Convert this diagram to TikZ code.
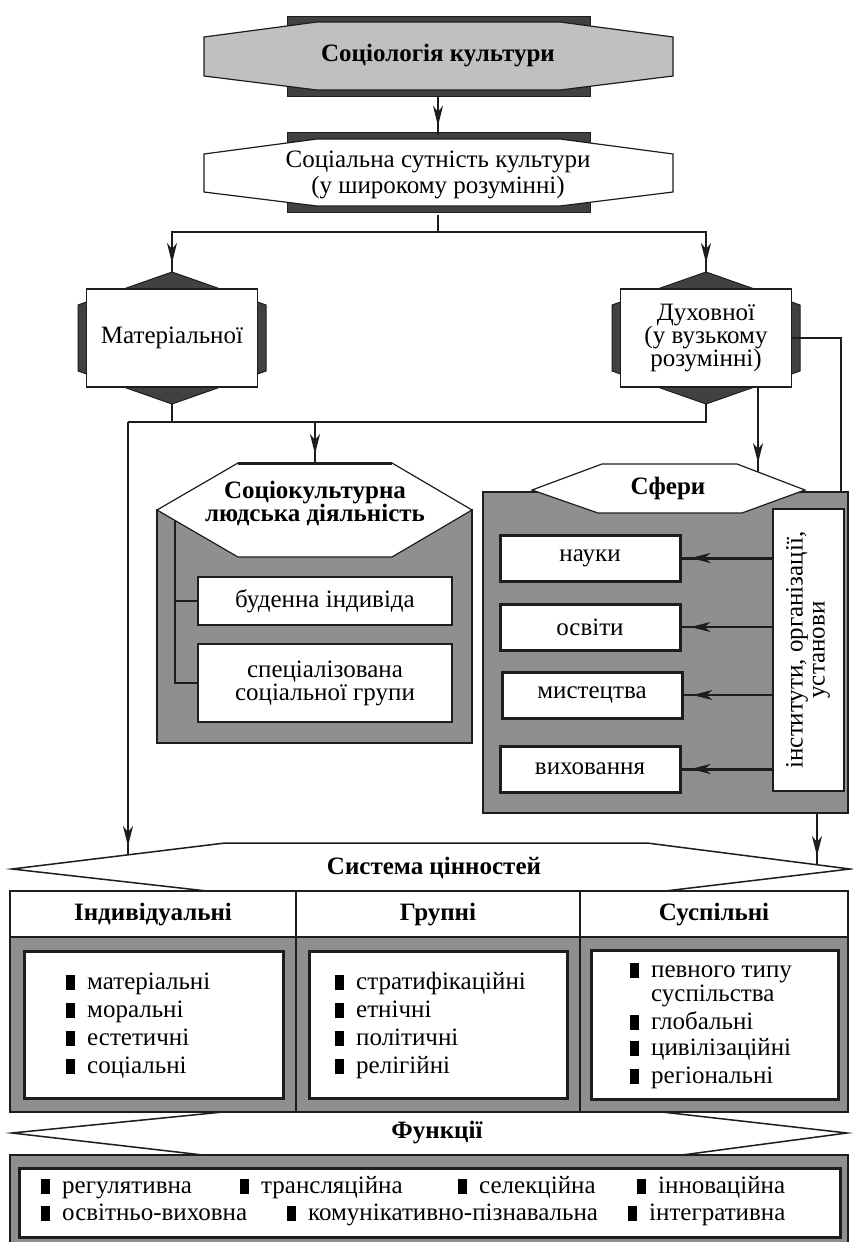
\documentclass[tikz,border=0pt]{standalone}
\usepackage{fontspec}
\setmainfont{Liberation Serif}
\usetikzlibrary{positioning,calc,arrows.meta,decorations.markings}

\definecolor{InkDark}{RGB}{30,28,28}
\definecolor{BarDark}{RGB}{66,64,64}
\definecolor{TitleGrey}{RGB}{192,192,192}
\definecolor{PanelGrey}{RGB}{143,143,143}

\tikzset{
  plain text/.style={
    font=\fontsize{25}{23}\selectfont,
    align=center, inner sep=0pt
  },
  bold text/.style={
    font=\fontsize{25}{23}\selectfont\bfseries,
    align=center, inner sep=0pt
  },
  list text/.style={
    font=\fontsize{25}{28}\selectfont,
    inner sep=0pt, anchor=base west
  },
  dark bar/.style={
    fill=BarDark, draw=InkDark, line width=1pt
  },
  banner hex/.style={
    fill=#1, draw=InkDark, line width=1.2pt
  },
  white box/.style={
    draw=InkDark, fill=white, line width=#1, inner sep=0pt
  },
  white box/.default=1.5pt,
  panel/.style={
    fill=PanelGrey, draw=InkDark, line width=2pt
  },
  link/.style={
    draw=InkDark, line width=2pt
  },
  thin link/.style={
    draw=InkDark, line width=1.2pt
  },
  arrow link/.style={
    postaction={decorate},
    decoration={markings,
      mark=at position -9pt with {\arrow{Stealth[length=20pt,width=10pt,inset=6pt]}}}
  },
}
\newcommand\bulletmark{\rule[-1pt]{9pt}{15pt}\hspace{12pt}}

\begin{document}
\begin{tikzpicture}[x=1pt, y=-1pt]
  \fill[white] (0,0) rectangle (852,1242);
  \useasboundingbox (0,0) rectangle (852,1242);

  % title
  \begin{scope}[shift={(438,56)}]
    \path[dark bar] (-151,-40) rectangle (152,40);
    \path[banner hex=TitleGrey] (-234,-19) -- (-121,-34) -- (122,-34) -- (235,-19)
      -- (235,20) -- (122,34) -- (-121,34) -- (-234,20) -- cycle;
    \node[bold text, minimum width=303pt, minimum height=80pt] (soc) at (0,0) {Соціологія культури};
  \end{scope}

  \begin{scope}[shift={(438,172)}]
    \path[dark bar] (-151,-40) rectangle (152,40);
    \path[banner hex=white] (-234,-18) -- (-121,-33) -- (122,-33) -- (235,-18)
      -- (235,20) -- (122,34) -- (-121,34) -- (-234,20) -- cycle;
    \node[plain text, font=\fontsize{25}{26}\selectfont, minimum width=303pt, minimum height=80pt]
      (ess) at (0,3) {Соціальна сутність культури\\(у широкому розумінні)};
  \end{scope}

  \draw[link, arrow link] (soc) -- (ess);

  % two kinds of culture
  \begin{scope}[shift={(172,338)}]
    \path[dark bar] (0,-66) -- (94,-33) -- (94,33) -- (0,66) -- (-94,33) -- (-94,-33) -- cycle;
    \node[white box, plain text, minimum width=171pt, minimum height=98pt] (mat) at (0,0) {Матеріальної};
    \coordinate (matTop) at (0,-66);
    \coordinate (matBot) at (0,66);
  \end{scope}
  \begin{scope}[shift={(706,338)}]
    \path[dark bar] (0,-66) -- (94,-33) -- (94,33) -- (0,66) -- (-94,33) -- (-94,-33) -- cycle;
    \node[white box, plain text, minimum width=171pt, minimum height=98pt] (duh) at (0,0)
      {Духовної\\(у вузькому\\розумінні)};
    \coordinate (duhTop) at (0,-66);
    \coordinate (duhBot) at (0,66);
  \end{scope}

  \coordinate (split) at (438,232);
  \draw[link] (ess.south) -- (split);
  \draw[link, arrow link] (split) -| (matTop);
  \draw[link, arrow link] (split) -| (duhTop);

  % socio-cultural activity
  \begin{scope}[shift={(315,510)}]
    \path[panel] (-158,0) rectangle (157,233);
    \path[fill=white, draw=InkDark, line width=1.2pt] (-158,0) -- (-77,-47) -- (77,-47) -- (157,0)
      -- (77,47) -- (-77,47) -- cycle;
    \draw[InkDark, line width=3pt] (-77,-47) -- (77,-47);
    \node[bold text] (sct) at (0,-7) {Соціокультурна\\людська діяльність};
    \coordinate (sctTop) at (0,-47);
    \coordinate (treeTop) at (-140,11);
  \end{scope}
  \node[white box=2.5pt, plain text, minimum width=254pt, minimum height=48pt] (bud) at (325,601) {буденна індивіда};
  \node[white box=2.5pt, plain text, minimum width=254pt, minimum height=78pt] (spec) at (325,683)
    {спеціалізована\\соціальної групи};
  \draw[thin link] (treeTop) |- (bud);
  \draw[thin link] (treeTop) |- (spec);

  % spheres
  \begin{scope}[shift={(668,490)}]
    \path[panel] (-185,2) rectangle (180,323);
    \path[fill=white, draw=InkDark, line width=1.2pt] (-136,0) -- (-66,-26) -- (69,-26) -- (137,0)
      -- (74,23) -- (-70,23) -- cycle;
    \node[bold text] (sf) at (0,-2) {Сфери};
    \coordinate (sfArrow) at (90,-18);
    \coordinate (sfIn) at (173,2);
    \coordinate (sfOut) at (149,323);
  \end{scope}
  \node[white box=3pt, plain text, minimum width=180pt, minimum height=46pt] (nauky) at (590,558) {науки};
  \node[white box=3pt, plain text, minimum width=180pt, minimum height=46pt] (osvity) at (590,627) {освіти};
  \node[white box=3pt, plain text, minimum width=180pt, minimum height=46pt] (myst) at (592,695) {мистецтва};
  \node[white box=3pt, plain text, minimum width=180pt, minimum height=46pt] (vykh) at (590,769) {виховання};
  \node[white box=2pt, minimum width=71pt, minimum height=282pt] (inst) at (808,650) {};
  \node[plain text, font=\fontsize{25}{22}\selectfont, rotate=90] (instLabel) at (inst.center)
    {інститути, організації,\\установи};

  \draw[link, line width=3pt, arrow link] (inst.west |- nauky) -- (nauky.east);
  \draw[thin link, arrow link] (inst.west |- osvity) -- (osvity.east);
  \draw[thin link, arrow link] (inst.west |- myst) -- (myst.east);
  \draw[link, line width=3pt, arrow link] (inst.west |- vykh) -- (vykh.east);

  \draw[link] (duh.east) -| (sfIn);
  \draw[thin link, arrow link] (duh.south -| sfArrow) -- (sfArrow);

  % bus under the two kinds
  \coordinate (busL) at (128,422);
  \coordinate (valIn) at (128,855);
  \coordinate (valIn2) at (817,865);
  \draw[link] (matBot) |- (busL);
  \draw[link] (busL) -| (duhBot);
  \draw[link, arrow link] (busL -| sctTop) -- (sctTop);
  \draw[link, arrow link] (busL) -- (valIn);
  \draw[link, arrow link] (sfOut) -- (valIn2);

  % values
  \path[fill=white, draw=InkDark, line width=1.5pt] (12,869) -- (225,843) -- (647,843) -- (850,869)
    -- (665,891) -- (207,891) -- cycle;
  \node[bold text] (val) at (434,868) {Система цінностей};

  \path[fill=white, draw=InkDark, line width=1.5pt] (12,1133) -- (223,1112) -- (662,1112) -- (847,1133)
    -- (682,1155) -- (203,1155) -- cycle;
  \node[bold text] (fn) at (437,1133) {Функції};

  \path[draw=InkDark, line width=2.5pt, fill=white] (10,891) rectangle (848,937);
  \path[panel, line width=2.5pt] (10,937) rectangle (848,1112);
  \draw[InkDark, line width=2.5pt] (296,891) -- (296,1112) (580,891) -- (580,1112);
  \node[bold text] (indHead) at (153,915) {Індивідуальні};
  \node[bold text] (grHead) at (438,915) {Групні};
  \node[bold text] (socHead) at (714,915) {Суспільні};
  \node[white box=3pt, minimum width=259pt, minimum height=147pt] (indBox) at (153.5,1024.5) {};
  \node[white box=3pt, minimum width=258pt, minimum height=147pt] (grBox) at (438,1024.5) {};
  \node[white box=3pt, minimum width=247pt, minimum height=149pt] (socBox) at (714.5,1024.5) {};

  \foreach \txt [count=\i] in {матеріальні, моральні, естетичні, соціальні}
    \node[list text] (ind\i) at (66,{961+28*\i}) {\bulletmark\txt};
  \foreach \txt [count=\i] in {стратифікаційні, етнічні, політичні, релігійні}
    \node[list text] (gr\i) at (335,{961+28*\i}) {\bulletmark\txt};
  \node[list text] (soc1) at (630,977) {\bulletmark певного типу};
  \node[list text] (soc1b) at (651,1001) {суспільства};
  \node[list text] (soc2) at (630,1029) {\bulletmark глобальні};
  \node[list text] (soc3) at (630,1055) {\bulletmark цивілізаційні};
  \node[list text] (soc4) at (630,1083) {\bulletmark регіональні};

  % functions
  \path[panel, line width=2.5pt] (10,1155) rectangle (848,1252);
  \node[white box=3pt, minimum width=821pt, minimum height=69pt] (fnBox) at (429.5,1202.5) {};
  \node[list text] (fn1) at (41,1193) {\bulletmark регулятивна};
  \node[list text] (fn2) at (240,1193) {\bulletmark трансляційна};
  \node[list text] (fn3) at (458,1193) {\bulletmark селекційна};
  \node[list text] (fn4) at (637,1193) {\bulletmark інноваційна};
  \node[list text] (fn5) at (41,1220) {\bulletmark освітньо-виховна};
  \node[list text] (fn6) at (287,1220) {\bulletmark комунікативно-пізнавальна};
  \node[list text] (fn7) at (628,1220) {\bulletmark інтегративна};
\end{tikzpicture}
\end{document}
